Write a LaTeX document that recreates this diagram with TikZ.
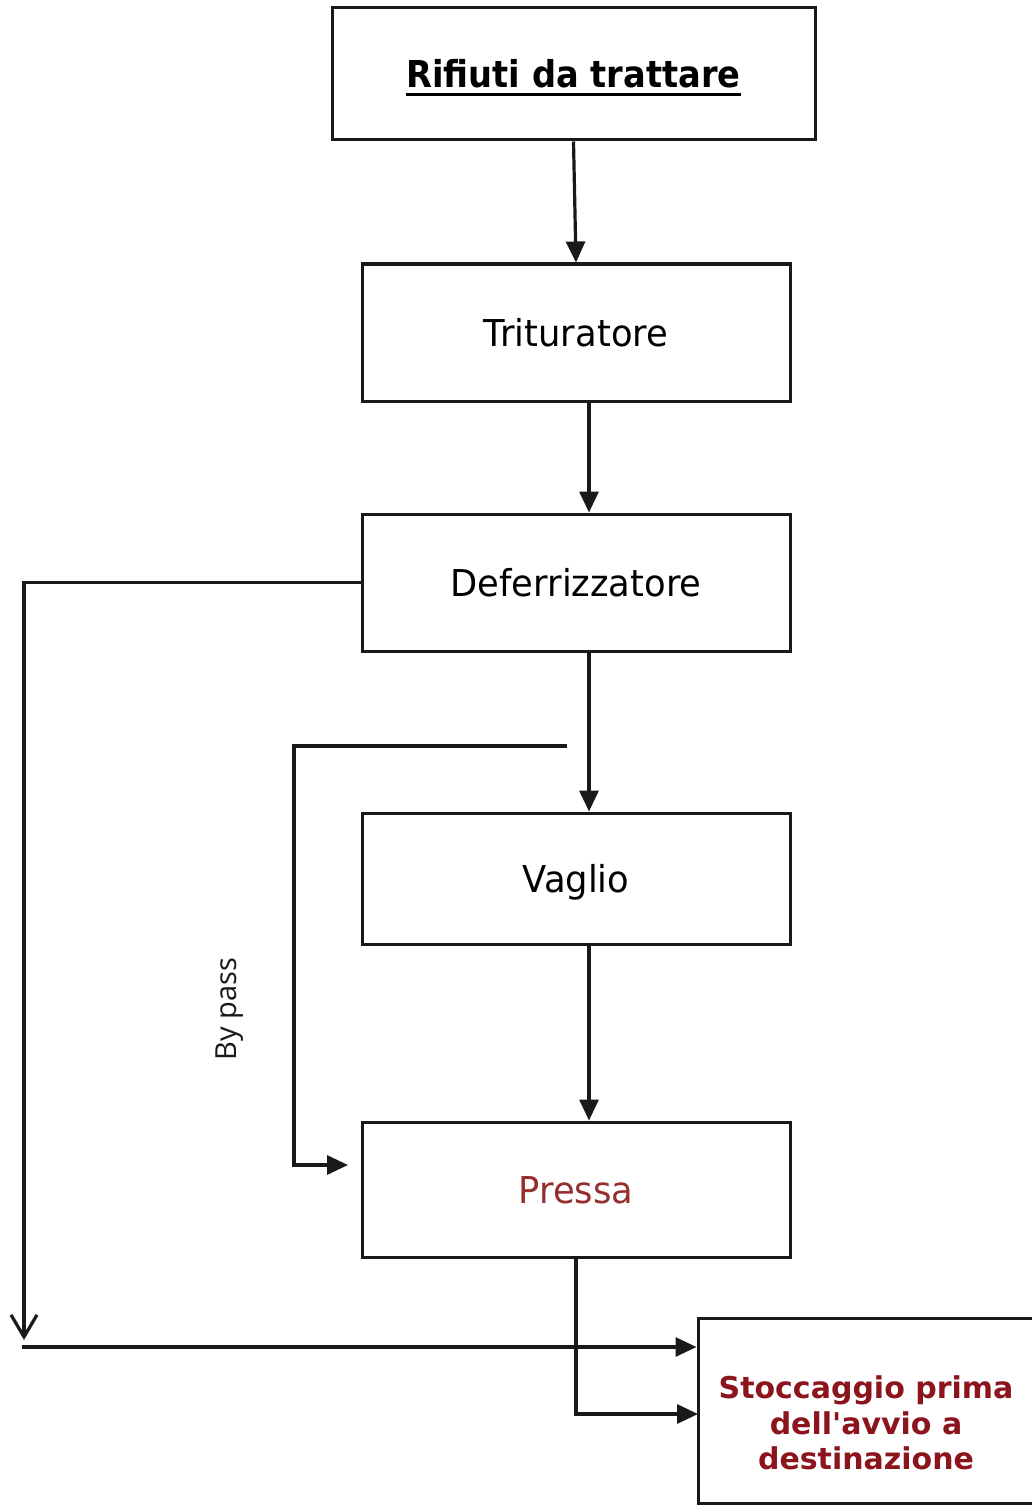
\documentclass[tikz,border=0pt]{standalone}
\usepackage{fontspec}
\setmainfont{DejaVu Sans}[FakeStretch=0.955, BoldFeatures={FakeStretch=0.91}]
\newfontfamily\stockfont{DejaVu Sans}
\newfontfamily\bpfont{Open Sans}
\usetikzlibrary{arrows.meta}
\definecolor{linegray}{RGB}{25,25,25}
\definecolor{stockred}{RGB}{140,20,28}
\definecolor{pressred}{RGB}{150,48,48}
% thick underline under a heading
\newcommand{\thickul}[1]{\setbox0=\hbox{#1}\leavevmode\rlap{\copy0}\rule[-8.5pt]{\wd0}{3pt}}
\tikzset{
  stage/.style={draw=linegray, line width=3pt, rectangle, fill=white,
    font=\fontsize{37}{44}\selectfont, text height=27pt, text depth=0pt,
    inner sep=0pt},
  flow/.style={draw=linegray, line width=3.2pt,
    -{Triangle[length=21pt,width=19pt]}},
  openflow/.style={draw=linegray, line width=3.2pt,
    -{Straight Barb[length=22pt,width=26pt]}},
  plain/.style={draw=linegray, line width=3.2pt}
}
\begin{document}
\begin{tikzpicture}[x=1pt,y=-1pt]
\useasboundingbox (0,0) rectangle (1032,1506);
\fill[white] (0,0) rectangle (1032,1506);

% process stages
\node[stage, minimum width=483pt, minimum height=132pt] (rif) at (573.5,74)
  {\bfseries\thickul{Rifiuti da trattare}};
\node[stage, minimum width=428pt, minimum height=137pt] (trit) at (576,332.5) {Trituratore};
\node[stage, minimum width=428pt, minimum height=137pt] (def) at (576,582.5) {Deferrizzatore};
\node[stage, minimum width=428pt, minimum height=131pt] (vag) at (576,878.5) {Vaglio};
\node[stage, minimum width=428pt, minimum height=135pt, text=pressred] (pre) at (576,1189.5) {Pressa};
\node[draw=linegray, line width=3pt, rectangle, minimum width=347pt, minimum height=185pt,
  inner sep=0pt] (stocc) at (871.5,1410.5) {};
\node[align=center, text=stockred, inner sep=0pt,
  font=\stockfont\bfseries\fontsize{30}{35.5}\selectfont] (stocctext) at (866,1423)
  {Stoccaggio prima\\dell'avvio a\\destinazione};

% main line
\draw[flow] (rif.south) -- (trit.north);
\draw[flow] ([xshift=13pt]trit.south) -- ([xshift=13pt]def.north);
\draw[flow] ([xshift=13pt]def.south) -- ([xshift=13pt]vag.north);
\draw[flow] ([xshift=13pt]vag.south) -- ([xshift=13pt]pre.north);

% metals leaving the deferrizer
\coordinate (ld) at (24,1340);
\draw[openflow] (def.west) -| (ld);
\coordinate (le) at (22,1347);
\draw[flow] (le) -- (stocc.west |- le);

% by pass of the screen
\coordinate (bp) at (567,746);
\coordinate (bpx) at (294,1165);
\coordinate (bpin) at (348,1165);
\draw[flow] (bp) -| (bpx) -- (bpin);
\node[rotate=90, font=\bpfont\fontsize{29}{34}\selectfont, text=linegray] (bplabel) at (230,1009) {By pass};

% pressed material to storage
\coordinate (sin) at (698,1414);
\draw[flow] (pre.south) |- (sin);
\end{tikzpicture}
\end{document}
